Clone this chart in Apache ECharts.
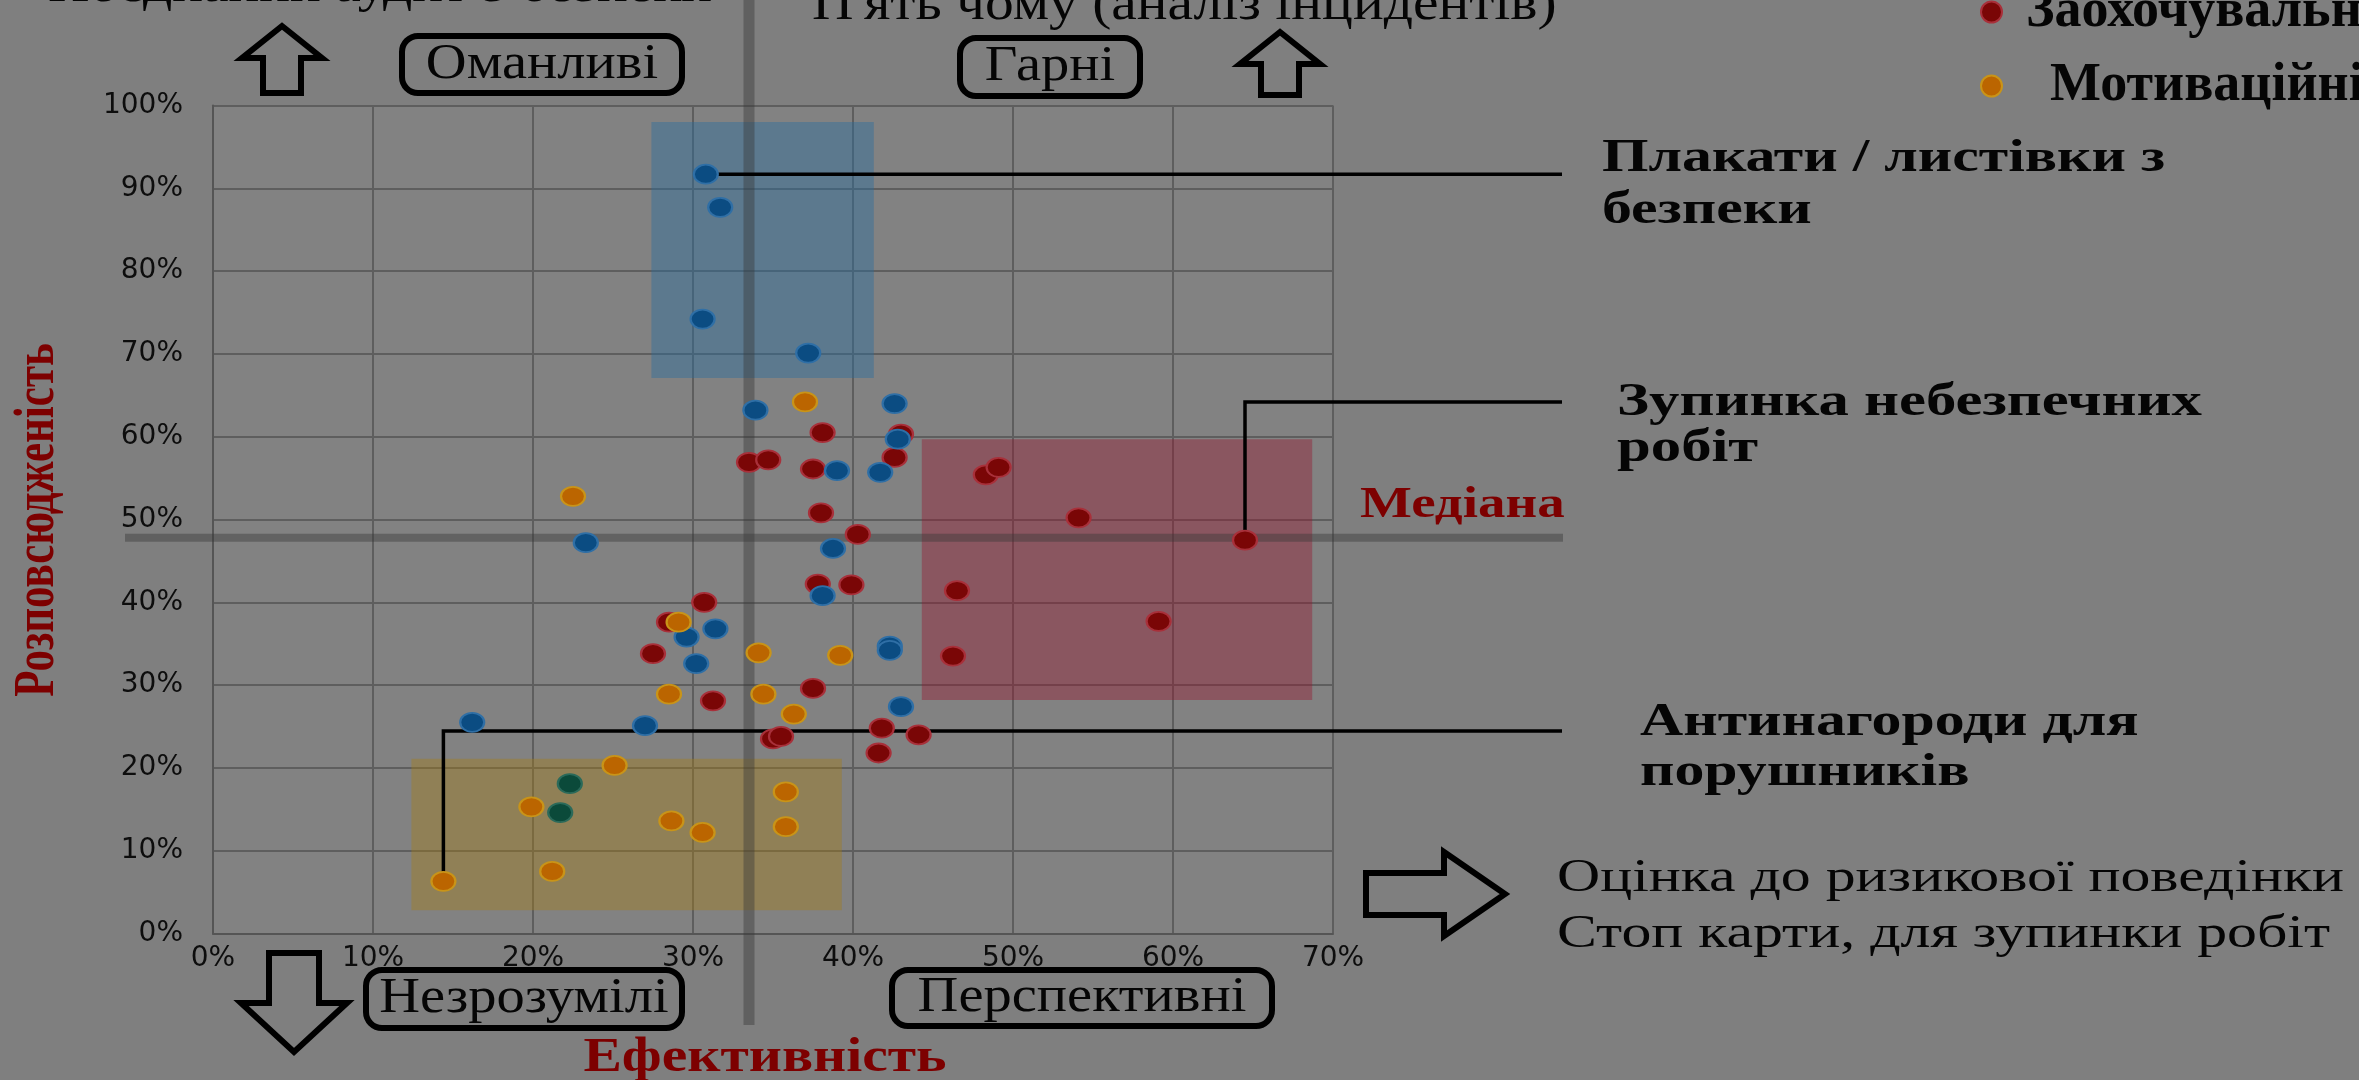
<!DOCTYPE html>
<html><head><meta charset="utf-8">
<script src="https://cdn.jsdelivr.net/npm/echarts/dist/echarts.min.js"></script>
<style>html,body{margin:0;padding:0;background:#7f7f7f}#c{width:2359px;height:1080px}</style>
</head><body><div id="c"></div><script>
// ---- data (values in %) ----
const xTicks = [0, 10, 20, 30, 40, 50, 60, 70];
const yTicks = [0, 10, 20, 30, 40, 50, 60, 70, 80, 90, 100];
const bluePoints = [[30.8,91.7],[31.7,87.7],[30.6,74.2],[37.2,70.1],[33.9,63.2],[42.6,64.0],[42.8,59.7],[39.0,55.9],[41.7,55.7],[23.3,47.2],[38.75,46.5],[38.1,40.8],[31.4,36.8],[29.6,35.8],[30.2,32.6],[42.3,34.7],[42.3,34.2],[43.0,27.4],[27.0,25.1],[16.2,25.5]];
const redPoints = [[38.1,60.5],[43.0,60.3],[42.6,57.5],[33.5,56.9],[34.7,57.2],[37.5,56.1],[48.3,55.4],[49.1,56.3],[38.0,50.8],[40.3,48.2],[54.1,50.2],[64.5,47.5],[37.8,42.2],[39.9,42.1],[46.5,41.4],[30.7,40.0],[59.1,37.7],[28.5,37.6],[27.5,33.8],[46.25,33.5],[37.5,29.6],[31.25,28.1],[35.0,23.5],[35.5,23.8],[41.8,24.8],[44.1,24.0],[41.6,21.8]];
const orangePoints = [[37.0,64.2],[22.5,52.8],[29.1,37.6],[34.1,33.9],[39.2,33.6],[28.5,28.9],[34.4,28.9],[36.3,26.5],[25.1,20.3],[35.8,17.1],[28.65,13.6],[30.6,12.2],[35.8,12.9],[19.9,15.3],[21.2,7.5],[14.4,6.3]];
const greenPoints = [[22.3,18.1],[21.7,14.6]];
const zoneBlue = [[27.4,67.1],[41.3,98.0]];
const zoneRed = [[44.3,28.2],[68.7,59.7]];
const zoneYellow = [[12.4,2.8],[39.3,21.1]];
const medianX = 33.5, medianY = 47.8;
const seriesNames = ['Інформаційні заходи', 'Заохочувальні заходи', 'Мотиваційні заходи', 'Інші заходи'];

const SYM = 'path://M0,10 A10,10 0 1,1 20,10 A10,10 0 1,1 0,10 Z';
const SX = 1.3;
const SERIF = '"Liberation Serif", "Times New Roman", serif';

const chart = echarts.init(document.getElementById('c'), null, {renderer: 'canvas'});

function sc(name, data, color, border) {
  return {type: 'scatter', name, data, symbol: SYM, symbolSize: [24, 19], z: 3,
    itemStyle: {color, borderColor: border, borderWidth: 2, opacity: 1},
    emphasis: {disabled: true}};
}
const red = sc(seriesNames[1], redPoints, '#7a0606', '#a8303a');
red.markArea = {silent: true, z: 1, data: [
  [{coord: zoneBlue[0], itemStyle: {color: 'rgba(40,110,160,0.42)'}}, {coord: zoneBlue[1]}],
  [{coord: zoneRed[0], itemStyle: {color: 'rgba(150,20,45,0.40)'}}, {coord: zoneRed[1]}],
  [{coord: zoneYellow[0], itemStyle: {color: 'rgba(165,125,20,0.40)'}}, {coord: zoneYellow[1]}]
]};

const legendText1 = {fontFamily: SERIF, fontWeight: 'bold', fontSize: 54, color: '#050505', padding: [0,0,0,16]};
const legendText2 = {fontFamily: SERIF, fontWeight: 'bold', fontSize: 54, color: '#050505', padding: [0,0,0,40]};
chart.setOption({
  animation: false,
  backgroundColor: '#7f7f7f',
  grid: {left: 213, right: 1026, top: 105.5, bottom: 146.5, containLabel: false, show: true, backgroundColor: '#828282', borderWidth: 0},
  legend: [
    {data: [seriesNames[1]], orient: 'vertical', left: 1980, top: -15, padding: 0, itemWidth: 27, itemHeight: 21, icon: SYM, textStyle: legendText1, selectedMode: false},
    {data: [seriesNames[2]], orient: 'vertical', left: 1980, top: 59, padding: 0, itemWidth: 27, itemHeight: 21, icon: SYM, textStyle: legendText2, selectedMode: false}
  ],
  xAxis: {type: 'value', min: xTicks[0], max: xTicks[xTicks.length-1], interval: 10,
    axisLine: {show: true, lineStyle: {color: '#555', width: 2}}, axisTick: {show: false},
    splitLine: {show: true, lineStyle: {color: '#5e5e5e', width: 2}},
    axisLabel: {formatter: '{value}%', fontFamily: '"DejaVu Sans", Arial, sans-serif', fontSize: 28, color: '#0d0d0d', margin: 11}},
  yAxis: {type: 'value', min: yTicks[0], max: yTicks[yTicks.length-1], interval: 10,
    axisLine: {show: true, lineStyle: {color: '#555', width: 2}}, axisTick: {show: false},
    splitLine: {show: true, lineStyle: {color: '#5e5e5e', width: 2}},
    axisLabel: {formatter: '{value}%', fontFamily: '"DejaVu Sans", Arial, sans-serif', fontSize: 28, color: '#0d0d0d', margin: 30}},
  series: [
    red,
    sc(seriesNames[0], bluePoints, '#0b4c82', '#2f6fa6'),
    sc(seriesNames[2], orangePoints, '#bb6500', '#c99418'),
    sc(seriesNames[3], greenPoints, '#0b4a3a', '#2b6a5a')
  ]
});

const px = pt => chart.convertToPixel({gridIndex: 0}, pt);
const mx = px([medianX, medianY]);
const pA = px(bluePoints[0]), pB = px(redPoints[11]), pC = px(orangePoints[15]);

function txt(text, x, y, o) {
  return {type: 'text', x, y, z: 30, scaleX: o.sx == null ? SX : o.sx, scaleY: o.sy == null ? 1 : o.sy, rotation: o.rot || 0,
    style: {text, fontFamily: SERIF, fontSize: o.fs, fontWeight: o.fw || 'normal', fill: o.fill || '#050505',
      textAlign: o.align || 'left', align: o.align || 'left',
      textVerticalAlign: o.va || 'middle', verticalAlign: o.va || 'middle', lineHeight: o.lh}};
}
function box(x1, y1, x2, y2) {
  return {type: 'rect', z: 25, shape: {x: x1, y: y1, width: x2-x1, height: y2-y1, r: 16},
    style: {fill: 'none', stroke: '#000', lineWidth: 6}};
}
function upArrow(cx, tip, headBase, bottom, hw, sw) {
  return {type: 'polygon', z: 25, shape: {points: [[cx, tip],[cx+hw, headBase],[cx+sw, headBase],[cx+sw, bottom],[cx-sw, bottom],[cx-sw, headBase],[cx-hw, headBase]]},
    style: {fill: 'none', stroke: '#000', lineWidth: 6, lineJoin: 'miter'}};
}
function downArrow(cx, top, headBase, tip, hw, sw) {
  return {type: 'polygon', z: 25, shape: {points: [[cx-sw, top],[cx+sw, top],[cx+sw, headBase],[cx+hw, headBase],[cx, tip],[cx-hw, headBase],[cx-sw, headBase]]},
    style: {fill: 'none', stroke: '#000', lineWidth: 6, lineJoin: 'miter'}};
}
function rightArrow(left, cy, headBase, tip, hh, sh) {
  return {type: 'polygon', z: 25, shape: {points: [[left, cy-sh],[headBase, cy-sh],[headBase, cy-hh],[tip, cy],[headBase, cy+hh],[headBase, cy+sh],[left, cy+sh]]},
    style: {fill: 'none', stroke: '#000', lineWidth: 6, lineJoin: 'miter'}};
}
const lineStyle = {stroke: '#000', lineWidth: 3.5, fill: 'none'};
const medStyle = {stroke: 'rgba(55,55,55,0.42)', fill: 'none'};

chart.setOption({graphic: {elements: [
  // median lines
  {type: 'line', z: 1, shape: {x1: mx[0], y1: 0, x2: mx[0], y2: 1025}, style: Object.assign({lineWidth: 11}, medStyle)},
  {type: 'line', z: 1, shape: {x1: 125, y1: mx[1], x2: 1563, y2: mx[1]}, style: Object.assign({lineWidth: 8}, medStyle)},
  // leader lines
  {type: 'polyline', z: 1, shape: {points: [pA, [1562, pA[1]]]}, style: lineStyle},
  {type: 'polyline', z: 1, shape: {points: [pB, [pB[0], 402], [1562, 402]]}, style: lineStyle},
  {type: 'polyline', z: 1, shape: {points: [pC, [pC[0], 731], [1562, 731]]}, style: lineStyle},
  // quadrant boxes
  box(402, 36, 682, 93), box(960, 38, 1140, 96), box(366, 970, 682, 1028), box(892, 970, 1272, 1026),
  txt('Оманливі', 542, 65, {fs: 50, align: 'center', sx: 1.13}),
  txt('Гарні', 1050, 67, {fs: 50, align: 'center', sx: 1.13}),
  txt('Незрозумілі', 524, 999, {fs: 50, align: 'center', sx: 1.13}),
  txt('Перспективні', 1082, 998, {fs: 50, align: 'center', sx: 1.13}),
  // arrows
  upArrow(282, 26, 58, 93, 40, 19),
  upArrow(1280, 32, 64, 95, 40, 19),
  downArrow(294, 953, 1003, 1052, 53, 25),
  rightArrow(1366, 894, 1444, 1505, 42, 21),
  // top texts
  txt('Поєднаний аудит з безпеки', 712, -12, {fs: 50, align: 'right', sx: 1.15}),
  txt("П'ять чому (аналіз інцидентів)", 812, 6, {fs: 50, sx: 1.15}),
  // annotations
  txt('Плакати / листівки з\nбезпеки', 1602, 133, {fs: 46, fw: 'bold', lh: 52, va: 'top', sx: 1.3}),
  txt('Зупинка небезпечних\nробіт', 1617, 380, {fs: 46, fw: 'bold', lh: 46, va: 'top', sx: 1.32}),
  txt('Медіана', 1360, 506, {fs: 44, fw: 'bold', fill: '#7d0000', sx: 1.25}),
  txt('Антинагороди для\nпорушників', 1640, 698, {fs: 46, fw: 'bold', lh: 50, va: 'top', sx: 1.3}),
  txt('Оцінка до ризикової поведінки\nСтоп карти, для зупинки робіт', 1557, 851, {fs: 46, lh: 56, va: 'top', sx: 1.3}),
  // axis titles
  txt('Ефективність', 765, 1059, {fs: 48, fw: 'bold', fill: '#7d0000', align: 'center', sx: 1.2}),
  txt('Розповсюдженість', 38, 520, {fs: 43, fw: 'bold', fill: '#7d0000', align: 'center', rot: Math.PI/2, sx: 1, sy: 1.35})
]}});
</script></body></html>
